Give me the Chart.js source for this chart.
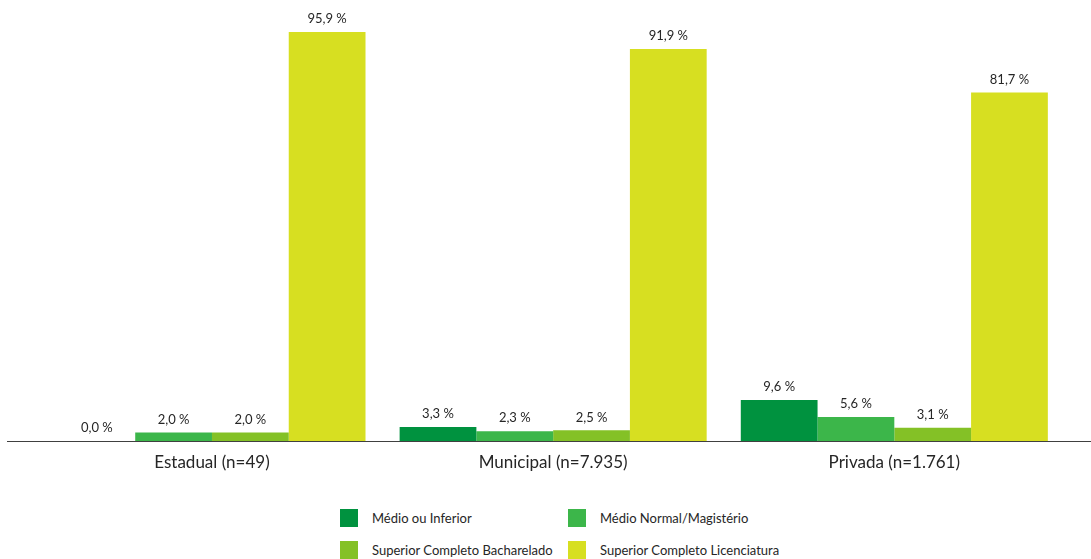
<!DOCTYPE html>
<html>
<head>
<meta charset="utf-8">
<script src="https://cdn.jsdelivr.net/npm/chart.js@4.4.1/dist/chart.umd.min.js"></script>
<style>
  html, body { margin: 0; padding: 0; background: #fff; }
  #wrap { position: relative; width: 1091px; height: 559px; overflow: hidden; }
  #c { position: absolute; left: 0; top: 0; }
  #legend { position: absolute; left: 340px; top: 509px; width: 480px; font-family: Lato, "Open Sans", sans-serif; font-size: 13px; color: #262626; }
  .item { position: absolute; display: flex; align-items: center; white-space: nowrap; }
  .sw { width: 18px; height: 18px; margin-right: 14px; }
</style>
</head>
<body>
<div id="wrap">
  <canvas id="c" width="1091" height="500"></canvas>
  <div id="legend"></div>
</div>
<script>
const categories = ["Estadual (n=49)", "Municipal (n=7.935)", "Privada (n=1.761)"];
const seriesNames = ["Médio ou Inferior", "Médio Normal/Magistério", "Superior Completo Bacharelado", "Superior Completo Licenciatura"];
const medioInferior = [0.0, 3.3, 9.6];
const medioNormal = [2.0, 2.3, 5.6];
const superiorBacharelado = [2.0, 2.5, 3.1];
const superiorLicenciatura = [95.9, 91.9, 81.7];
const seriesColors = ["#00923F", "#3CB64A", "#84C126", "#D7DF21"];

const seriesValues = [medioInferior, medioNormal, superiorBacharelado, superiorLicenciatura];
const datasets = seriesNames.map((n, i) => ({
  label: n,
  data: seriesValues[i],
  backgroundColor: seriesColors[i],
  borderWidth: 0,
  categoryPercentage: 0.9,
  barPercentage: 1.0
}));

const fontFam = 'Lato, "Open Sans", sans-serif';

const valueLabels = {
  id: 'valueLabels',
  afterDatasetsDraw(chart) {
    const ctx = chart.ctx;
    ctx.save();
    ctx.font = '13px ' + fontFam;
    ctx.fillStyle = '#262626';
    ctx.textAlign = 'center';
    ctx.textBaseline = 'middle';
    chart.data.datasets.forEach((ds, i) => {
      chart.getDatasetMeta(i).data.forEach((bar, j) => {
        const v = ds.data[j];
        const txt = v.toFixed(1).replace('.', ',') + ' %';
        ctx.fillText(txt, bar.x, bar.y - 13);
      });
    });
    ctx.restore();
  }
};

const axisLine = {
  id: 'axisLine',
  afterDatasetsDraw(chart) {
    const ctx = chart.ctx;
    const y = chart.chartArea.bottom + 0.5;
    ctx.save();
    ctx.strokeStyle = '#404040';
    ctx.lineWidth = 1;
    ctx.beginPath();
    ctx.moveTo(7, y);
    ctx.lineTo(1091, y);
    ctx.stroke();
    ctx.restore();
  }
};

new Chart(document.getElementById('c'), {
  type: 'bar',
  data: { labels: categories, datasets },
  options: {
    responsive: false,
    animation: false,
    layout: { padding: { left: 41.4, right: 26.1, top: 14.5, bottom: 0 } },
    plugins: { legend: { display: false }, tooltip: { enabled: false } },
    scales: {
      x: {
        grid: { display: false },
        border: { display: false },
        ticks: { color: '#262626', font: { family: fontFam, size: 17 }, padding: 3 },
        afterFit(s) { s.height = 59; }
      },
      y: {
        display: false,
        min: 0, max: 100
      }
    }
  },
  plugins: [valueLabels, axisLine]
});

const legend = document.getElementById('legend');
seriesNames.forEach((n, i) => {
  const d = document.createElement('div');
  d.className = 'item';
  d.style.left = (i % 2) * 228 + 'px';
  d.style.top = Math.floor(i / 2) * 32 + 'px';
  d.innerHTML = '<div class="sw" style="background:' + seriesColors[i] + '"></div><span>' + n + '</span>';
  legend.appendChild(d);
});
</script>
</body>
</html>
